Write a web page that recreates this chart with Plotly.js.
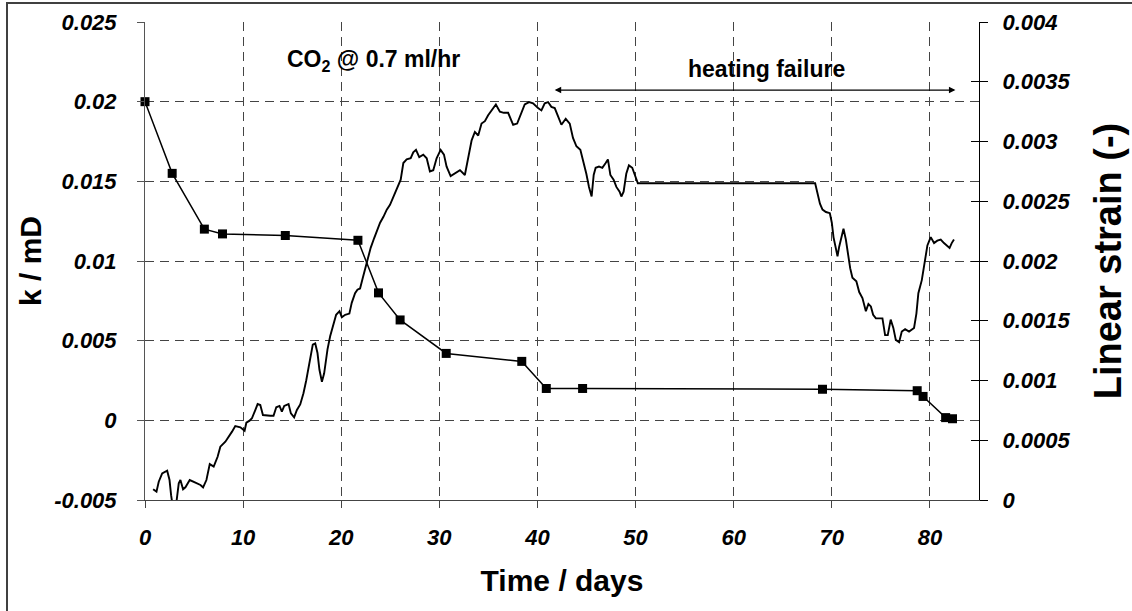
<!DOCTYPE html>
<html>
<head>
<meta charset="utf-8">
<script src="https://cdn.plot.ly/plotly-3.0.1.min.js"></script>
<style>
  html, body { margin: 0; padding: 0; background: #fff; overflow: hidden; }
  #chart { width: 1132px; height: 611px; }
  #frame { position: absolute; left: 6px; top: 2px; width: 2000px; height: 2000px;
           border-top: 2px solid #404040; border-left: 2px solid #404040; pointer-events: none; }
</style>
</head>
<body>
<div id="chart"></div>
<div id="frame"></div>
<script>
// Permeability k (mD) vs time (days)
const kDays = [0, 2.77, 6.05, 7.9, 14.3, 21.7, 23.8, 26.0, 30.7, 38.4, 40.9, 44.6, 69.05, 78.7, 79.3, 81.6, 82.3];
const kValues = [0.0200, 0.0155, 0.0120, 0.0117, 0.0116, 0.0113, 0.0080, 0.0063, 0.0042, 0.0037, 0.0020, 0.0020, 0.00195, 0.00186, 0.0015, 0.00017, 0.0001];

// Linear strain (-) vs time (days)
const strainDays = [0.83,1.17,1.4,1.75,2.26,2.5,2.66,2.77,3.2,3.44,3.61,3.88,4.12,4.56,5.14,5.65,5.92,6.26,6.6,7.0,7.4,7.68,8.19,8.53,8.87,9.2,9.72,10.15,10.33,10.66,10.9,11.24,11.48,11.75,12.02,12.77,13.1,13.38,13.71,13.95,14.19,14.63,14.87,15.2,15.48,15.82,16.15,16.43,16.77,17.1,17.35,17.58,17.78,18.03,18.26,18.6,18.87,19.2,19.48,19.82,20.06,20.4,20.83,21.07,21.41,21.65,21.92,22.2,22.6,23.0,23.35,23.68,23.96,24.3,24.64,24.97,25.38,25.82,26.06,26.33,26.67,27.08,27.34,27.62,27.95,28.36,28.71,29.04,29.38,29.72,30.13,30.47,30.74,31.15,31.59,32.1,32.6,32.94,33.29,33.62,33.96,34.3,34.64,34.97,35.32,35.76,36.17,36.57,37.01,37.52,37.93,38.37,38.7,39.15,39.55,40.06,40.4,40.74,41.08,41.42,41.76,42.1,42.44,42.88,43.29,43.62,43.97,44.37,44.64,44.98,45.25,45.52,45.73,45.93,46.27,46.61,46.95,47.18,47.43,47.76,48.04,48.37,48.55,48.78,49.05,49.32,49.66,50.0,50.23,68.3,68.55,68.79,69.05,69.4,69.8,70.0,70.17,70.35,70.58,70.75,70.99,71.19,71.43,71.67,71.87,72.1,72.5,72.79,73.12,73.47,73.73,73.98,74.21,74.49,75.16,75.43,75.7,76.0,76.27,76.52,76.86,77.13,77.47,77.87,78.38,78.62,78.82,79.17,79.43,79.74,80.08,80.42,80.75,81.1,81.43,81.77,82.0,82.22,82.45];
const strainValues = [0.00009,0.00007,0.000153,0.000223,0.000245,0.000167,0.00004,-0.00002,-0.00002,0.00014,0.000167,0.00009,0.000106,0.000167,0.000145,0.000126,0.000106,0.000167,0.0003,0.000279,0.000362,0.000446,0.000488,0.000525,0.000572,0.000619,0.000608,0.00058,0.000647,0.000664,0.000684,0.000753,0.000803,0.000795,0.000711,0.000705,0.000705,0.000776,0.000787,0.000739,0.000787,0.000803,0.000725,0.000692,0.000753,0.0008,0.000893,0.001,0.00117,0.0013,0.00131,0.00123,0.00109,0.00099,0.00106,0.00126,0.00137,0.00148,0.00155,0.00158,0.00153,0.00155,0.00156,0.00165,0.00173,0.00176,0.00177,0.00186,0.00198,0.00211,0.00219,0.00227,0.00232,0.00237,0.00243,0.00247,0.00255,0.00264,0.00268,0.00282,0.00285,0.00286,0.00291,0.00293,0.00287,0.00289,0.00286,0.00275,0.00276,0.00286,0.00293,0.00289,0.00279,0.00271,0.00273,0.00276,0.00272,0.00287,0.00301,0.00308,0.00305,0.00315,0.00317,0.00322,0.00326,0.00331,0.00325,0.00324,0.00324,0.00314,0.00315,0.00324,0.00331,0.00333,0.00332,0.00328,0.00326,0.00332,0.00333,0.00329,0.00328,0.00321,0.00314,0.00319,0.00315,0.00303,0.00296,0.00293,0.00285,0.00273,0.00262,0.00254,0.00272,0.00278,0.00279,0.00278,0.00282,0.00285,0.00272,0.00268,0.00262,0.00258,0.00254,0.00258,0.00273,0.0028,0.00278,0.00269,0.00265,0.00265,0.00257,0.00248,0.00243,0.00241,0.0024,0.00232,0.0022,0.00213,0.00204,0.00212,0.0022,0.00227,0.00218,0.00204,0.00194,0.00186,0.00183,0.00174,0.00169,0.00158,0.00164,0.00162,0.00155,0.00152,0.00152,0.00138,0.00138,0.00151,0.00144,0.00134,0.00132,0.00141,0.00143,0.00141,0.00144,0.00156,0.00173,0.00184,0.00198,0.00213,0.0022,0.00215,0.00217,0.00218,0.00215,0.00213,0.00211,0.00215,0.00218];

const xTicks = [0, 10, 20, 30, 40, 50, 60, 70, 80];
const kTicks = [-0.005, 0, 0.005, 0.01, 0.015, 0.02, 0.025];
const kTickText = ['-0.005', '0', '0.005', '0.01', '0.015', '0.02', '0.025'];
const sTicks = [0, 0.0005, 0.001, 0.0015, 0.002, 0.0025, 0.003, 0.0035, 0.004];
const sTickText = ['0', '0.0005', '0.001', '0.0015', '0.002', '0.0025', '0.003', '0.0035', '0.004'];

const FONT = 'Liberation Sans, Arial, sans-serif';
const tickFont = {family: FONT, size: 22, color: '#000', weight: 'bold', style: 'italic'};
const titleFont = {family: FONT, size: 30, color: '#000', weight: 'bold'};
const rightTitleFont = {family: FONT, size: 38, color: '#000', weight: 'bold'};

const traces = [
  {x: strainDays, y: strainValues, yaxis: 'y2', type: 'scatter', mode: 'lines',
   line: {color: '#000', width: 1.9}, hoverinfo: 'skip', showlegend: false},
  {x: kDays, y: kValues, type: 'scatter', mode: 'lines+markers',
   line: {color: '#000', width: 1.5}, marker: {symbol: 'square', size: 9, color: '#000'},
   cliponaxis: false, showlegend: false},
  {x: strainDays, y: strainValues, yaxis: 'y3', type: 'scatter', mode: 'lines',
   opacity: 0, hoverinfo: 'skip', showlegend: false}
];

const layout = {
  width: 1132, height: 611,
  margin: {l: 145, r: 153, t: 22, b: 111, pad: 0},
  paper_bgcolor: '#fff', plot_bgcolor: '#fff',
  showlegend: false,
  xaxis: {
    range: [0, 85], tickvals: xTicks, ticktext: xTicks.map(String),
    ticks: 'outside', ticklen: 7, tickcolor: '#444', tickwidth: 1,
    showline: true, linecolor: '#444', linewidth: 1,
    showgrid: true, gridcolor: '#444', gridwidth: 1, griddash: '9px,6px',
    zeroline: false, tickfont: tickFont, ticklabelstandoff: 11,
    title: {text: 'Time / days', font: titleFont, standoff: 20}
  },
  yaxis: {
    range: [-0.005, 0.025], tickvals: kTicks, ticktext: kTickText,
    ticks: 'outside', ticklen: 7, tickcolor: '#555', tickwidth: 1,
    showline: true, linecolor: '#555', linewidth: 1,
    showgrid: true, gridcolor: '#444', gridwidth: 1, griddash: '9px,6px',
    zeroline: false, tickfont: tickFont, ticklabelstandoff: 16,
    title: {text: 'k / mD', font: titleFont, standoff: 3}
  },
  yaxis2: {
    range: [0, 0.004], tickvals: sTicks, ticktext: sTickText,
    overlaying: 'y', side: 'right',
    ticks: 'outside', ticklen: 8, tickcolor: '#000', tickwidth: 1,
    showline: true, linecolor: '#000', linewidth: 1,
    showgrid: false, zeroline: false, tickfont: tickFont, ticklabelstandoff: 10,
    title: {text: 'Linear strain (-)', font: rightTitleFont, standoff: 24}
  },
  yaxis3: {
    range: [0, 0.004], tickvals: sTicks, overlaying: 'y', side: 'right',
    ticks: 'inside', ticklen: 8, tickcolor: '#000', tickwidth: 1,
    showticklabels: false, showline: false, showgrid: false, zeroline: false
  },
  annotations: [
    {xref: 'x', yref: 'y2', x: 23.25, y: 0.00368, text: 'CO<sub>2</sub> @ 0.7 ml/hr',
     showarrow: false, font: {family: FONT, size: 23, color: '#000', weight: 'bold'}},
    {xref: 'x', yref: 'y2', x: 63.3, y: 0.00361, text: 'heating failure',
     showarrow: false, font: {family: FONT, size: 23, color: '#000', weight: 'bold'}},
    {xref: 'x', yref: 'y2', x: 82.6, y: 0.00343, axref: 'x', ayref: 'y2', ax: 41.6, ay: 0.00343,
     text: '', showarrow: true, arrowside: 'end+start', arrowhead: 2, arrowsize: 1, arrowwidth: 1.3,
     arrowcolor: '#000', startarrowhead: 2, startarrowsize: 1}
  ]
};

Plotly.newPlot('chart', traces, layout, {displayModeBar: false, staticPlot: true});
</script>
</body>
</html>
